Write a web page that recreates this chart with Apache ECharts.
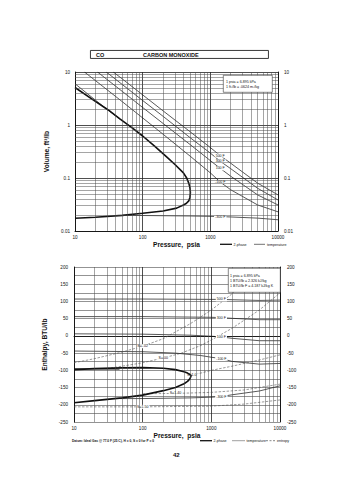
<!DOCTYPE html>
<html><head><meta charset="utf-8">
<script src="https://cdn.jsdelivr.net/npm/echarts@6/dist/echarts.min.js"></script>
<style>html,body{margin:0;padding:0;background:#fff}#c{width:355px;height:480px}</style>
</head><body><div id="c"></div>
<script>
// ---------- data (pressure psia, volume ft3/lb) ----------
const domeVolume = [[10,5.1],[20,2.8],[31,1.92],[46,1.3],[70,0.88],[100,0.62],[150,0.40],[226,0.25],[300,0.18],[400,0.125],[447,0.10],[480,0.08],[500,0.065],[507,0.053],[500,0.043],[480,0.037],[440,0.033],[400,0.031],[318,0.027],[200,0.0238],[100,0.0216],[50,0.0197],[20,0.0182],[10,0.0174]];
const volT500 = [[36.8,10],[50,7.4],[100,3.7],[200,1.85],[500,0.75],[1000,0.375],[1400,0.265],[2000,0.19],[5000,0.08],[10000,0.048]];
const volT300 = [[29,10],[50,5.8],[100,2.9],[200,1.46],[500,0.58],[1000,0.295],[1400,0.207],[2000,0.15],[5000,0.064],[10000,0.0385]];
const volT100 = [[21.5,10],[50,4.3],[100,2.14],[200,1.07],[500,0.43],[1000,0.213],[1400,0.152],[2000,0.108],[5000,0.048],[10000,0.031]];
const volTm100 = [[13.8,10],[20,6.9],[50,2.75],[100,1.36],[200,0.67],[500,0.26],[1000,0.125],[1400,0.084],[2000,0.06],[5000,0.031],[10000,0.023]];
const volTm300vap = [[10,6.0],[20,2.95],[30,1.96],[46,1.3]];
const volTm300liq = [[46,0.0197],[100,0.0196],[500,0.0192],[1000,0.0189],[1400,0.0187],[2000,0.0184],[5000,0.0175],[10000,0.0163]];
const volLabels = ['500 F','300 F','100 F','-100 F','-300 F'];

// ---------- data (pressure psia, enthalpy BTU/lb) ----------
const domeEnthalpy = [[10,-98],[20,-95],[50,-93],[100,-92],[200,-94],[300,-98],[400,-104],[450,-108],[490,-112],[507,-116],[490,-124],[450,-132],[400,-139],[300,-150],[200,-159],[100,-172],[50,-180],[20,-188],[10,-194]];
const hT500 = [[10,107],[100,107],[1000,106],[1400,106],[2000,105],[5000,103],[10000,104]];
const hT300 = [[10,56],[100,56],[1000,54],[1400,53],[2000,51],[5000,47],[10000,47]];
const hT100 = [[10,6],[100,5],[500,2],[1000,-1],[1400,-3],[2000,-7],[5000,-14],[10000,-14]];
const hTm100 = [[10,-44],[100,-46],[300,-50],[700,-57],[1000,-62],[1400,-66],[2000,-74],[5000,-82],[10000,-80]];
const hTm300vap = [[10,-95],[20,-96],[46,-97]];
const hTm300liq = [[46,-182],[100,-182],[500,-180],[1000,-178],[1400,-176],[2000,-171],[5000,-160],[10000,-145]];
const hLabels = ['500 F','300 F','100 F','-100 F','-300 F'];
const hS1 = [[10,-78],[20,-66],[50,-47],[100,-30],[200,-8],[500,36],[1000,75],[2000,122],[4000,180],[5000,200]];
const hS2 = [[30,-95],[50,-88],[100,-78],[200,-64],[355,-51],[700,-28],[1000,-12],[2000,22],[5000,75],[10000,125]];
const hS3 = [[520,-113],[700,-108],[1000,-100],[2000,-88],[5000,-70],[10000,-55]];
const hS4 = [[100,-168],[300,-167],[1000,-164],[3000,-157],[10000,-140]];
const hS5 = [[10,-206],[100,-206],[1000,-204],[3000,-198],[10000,-186]];
const sLabels = ['S=-.02','S=.00','S=1.0','S=1.40','S=1.50'];

const pressureTicks = [10,100,1000,10000];
const volumeTicks = [0.01,0.1,1,10];

// ---------- helpers ----------
function minorLog(lo, hi){const o=[];for(let d=lo;d<hi-1e-12;d*=10){for(let k=2;k<=9;k++)o.push(+(d*k).toPrecision(3));}return o;}
const FONT = 'Liberation Sans, Arial, sans-serif';
const gridColor = '#4a4a4a';
function labeled(data, at, text){
  return data.map(p => p[0]===at ? {value:p, label:{show:true, formatter:text}} : {value:p});
}
const isoLabel = {show:false, position:'inside', fontSize:3.6, color:'#111', backgroundColor:'#fff', padding:[0,1], fontFamily:FONT};
function line(xi, yi, data, opts){
  return Object.assign({type:'line', xAxisIndex:xi, yAxisIndex:yi, data:data, symbol:'circle', symbolSize:0.01, showSymbol:true,
    lineStyle:{color:'#111', width:0.7}, itemStyle:{color:'#111'}, label:isoLabel, silent:true, z:3}, opts||{});
}
function minorSeries(xi, yi, xs, ys){
  const d=[];xs.forEach(v=>d.push({xAxis:v}));(ys||[]).forEach(v=>d.push({yAxis:v}));
  return {type:'line', xAxisIndex:xi, yAxisIndex:yi, data:[], z:1,
    markLine:{silent:true, symbol:['none','none'], label:{show:false}, animation:false,
      lineStyle:{color:gridColor, width:0.5, type:'solid'}, data:d}};
}
const axisLbl = {fontSize:4.6, color:'#111', fontFamily:FONT};
const nameStyle = {fontSize:6.6, fontWeight:'bold', color:'#111', fontFamily:FONT};
const plainNum = v => String(+v.toPrecision(6));
const every50 = v => (Math.round(v) % 50 === 0 ? String(Math.round(v)) : '');
function logX(gi){return {gridIndex:gi, type:'log', logBase:10, min:10, max:10000, name:'Pressure,  psia', nameLocation:'middle', nameGap:10, nameTextStyle:nameStyle,
  axisLine:{lineStyle:{color:'#111', width:0.9}}, axisTick:{show:false}, axisLabel:Object.assign({margin:4, formatter:plainNum},axisLbl),
  splitLine:{show:true, lineStyle:{color:'#222', width:0.8}}};}

const chart = echarts.init(document.getElementById('c'), null, {renderer:'svg', width:355, height:480});
const volStyle = {lineStyle:{color:'#111', width:1.6}, z:4};
const entStyle = {lineStyle:{color:'#555', width:0.6, type:[2.5,1.5]}, itemStyle:{color:'#555'}};
const option = {
  animation:false,
  backgroundColor:'#fff',
  textStyle:{fontFamily:FONT},
  grid:[{left:75, top:72, width:203, height:159},{left:74, top:267, width:206, height:155}],
  xAxis:[logX(0), logX(1)],
  yAxis:[
    {gridIndex:0, type:'log', logBase:10, min:0.01, max:10, name:'Volume, ft³/lb', nameLocation:'middle', nameGap:15, nameTextStyle:nameStyle,
     axisLine:{lineStyle:{color:'#111', width:0.9}}, axisTick:{show:false}, axisLabel:Object.assign({margin:5, formatter:plainNum},axisLbl),
     splitLine:{show:true, lineStyle:{color:'#222', width:0.8}}},
    {gridIndex:0, type:'log', logBase:10, min:0.01, max:10, position:'right',
     axisLine:{show:true, lineStyle:{color:'#111', width:0.9}}, axisTick:{show:false}, axisLabel:Object.assign({margin:6, formatter:plainNum},axisLbl), splitLine:{show:false}},
    {gridIndex:1, type:'value', min:-250, max:200, interval:25, name:'Enthalpy, BTU/lb', nameLocation:'middle', nameGap:17, nameTextStyle:nameStyle,
     axisLine:{lineStyle:{color:'#111', width:0.9}}, axisTick:{show:false}, axisLabel:Object.assign({margin:6, formatter:every50},axisLbl),
     splitLine:{show:true, lineStyle:{color:gridColor, width:0.6}}},
    {gridIndex:1, type:'value', min:-250, max:200, interval:25, position:'right',
     axisLine:{show:true, lineStyle:{color:'#111', width:0.9}}, axisTick:{show:false}, axisLabel:Object.assign({margin:7, formatter:every50},axisLbl), splitLine:{show:false}}
  ],
  series:[
    minorSeries(0,0, minorLog(10,10000), minorLog(0.01,10)),
    minorSeries(1,2, minorLog(10,10000), []),
    Object.assign(line(0,0,domeVolume), volStyle),
    line(0,0, labeled(volT500,1400,volLabels[0])),
    line(0,0, labeled(volT300,1400,volLabels[1])),
    line(0,0, labeled(volT100,1400,volLabels[2])),
    line(0,0, labeled(volTm100,1400,volLabels[3])),
    line(0,0, volTm300vap),
    line(0,0, labeled(volTm300liq,1400,volLabels[4])),
    Object.assign(line(1,2,domeEnthalpy), volStyle),
    line(1,2, labeled(hT500,1400,hLabels[0])),
    line(1,2, labeled(hT300,1400,hLabels[1])),
    line(1,2, labeled(hT100,1400,hLabels[2])),
    line(1,2, labeled(hTm100,1400,hLabels[3])),
    line(1,2, hTm300vap),
    line(1,2, labeled(hTm300liq,1400,hLabels[4])),
    Object.assign(line(1,2, labeled(hS1,100,sLabels[0])), entStyle),
    Object.assign(line(1,2, labeled(hS2,200,sLabels[1])), entStyle),
    Object.assign(line(1,2, labeled(hS3,520,sLabels[2])), entStyle),
    Object.assign(line(1,2, labeled(hS4,300,sLabels[3])), entStyle),
    Object.assign(line(1,2, labeled(hS5,100,sLabels[4])), entStyle)
  ],
  graphic:[
    {type:'rect', left:90, top:50, shape:{width:178, height:8}, style:{fill:'#fff', stroke:'#222', lineWidth:0.9}},
    {type:'text', left:96, top:51.5, style:{text:'CO', font:'bold 5.5px '+FONT, fill:'#111'}},
    {type:'text', left:143, top:51.5, style:{text:'CARBON MONOXIDE', font:'bold 5.5px '+FONT, fill:'#111'}},
    {type:'rect', left:223, top:75, shape:{width:49, height:17}, style:{fill:'#fff', stroke:'#333', lineWidth:0.6}, z:10},
    {type:'text', left:226, top:79.5, z:11, style:{text:'1 psia = 6.895 kPa', font:'3.6px '+FONT, fill:'#111'}},
    {type:'text', left:226, top:85, z:11, style:{text:'1 ft³/lb = .0624 m³/kg', font:'3.6px '+FONT, fill:'#111'}},
    {type:'line', shape:{x1:220, y1:244.3, x2:232, y2:244.3}, style:{stroke:'#111', lineWidth:1.3}},
    {type:'text', left:233.5, top:242.6, style:{text:'2-phase', font:'3.6px '+FONT, fill:'#111'}},
    {type:'line', shape:{x1:254, y1:244.3, x2:265, y2:244.3}, style:{stroke:'#111', lineWidth:0.6}},
    {type:'text', left:267, top:242.6, style:{text:'temperature', font:'3.6px '+FONT, fill:'#111'}},
    {type:'rect', left:228, top:268, shape:{width:52, height:24}, style:{fill:'#fff', stroke:'#333', lineWidth:0.6}, z:10},
    {type:'text', left:230, top:273.8, z:11, style:{text:'1 psia = 6.895 kPa', font:'3.6px '+FONT, fill:'#111'}},
    {type:'text', left:230, top:278.8, z:11, style:{text:'1 BTU/lb = 2.326 kJ/kg', font:'3.6px '+FONT, fill:'#111'}},
    {type:'text', left:230, top:284, z:11, style:{text:'1 BTU/lb F = 4.187 kJ/kg K', font:'3.6px '+FONT, fill:'#111'}},
    {type:'line', shape:{x1:200, y1:440.7, x2:212, y2:440.7}, style:{stroke:'#111', lineWidth:1.3}},
    {type:'text', left:213.5, top:439, style:{text:'2-phase', font:'3.6px '+FONT, fill:'#111'}},
    {type:'line', shape:{x1:232, y1:440.7, x2:245, y2:440.7}, style:{stroke:'#777', lineWidth:0.7}},
    {type:'text', left:246.5, top:439, style:{text:'temperature', font:'3.6px '+FONT, fill:'#111'}},
    {type:'line', shape:{x1:266, y1:440.7, x2:275, y2:440.7}, style:{stroke:'#555', lineWidth:0.7, lineDash:[2,1.5]}},
    {type:'text', left:277, top:439, style:{text:'entropy', font:'3.6px '+FONT, fill:'#111'}},
    {type:'text', left:72, top:439, style:{text:'Datum: Ideal Gas @ 77.0 F (25 C), H = 0, S = 0 for P = 0', font:'bold 3.2px '+FONT, fill:'#111'}},
    {type:'text', left:173, top:451.5, style:{text:'42', font:'bold 6px '+FONT, fill:'#111'}}
  ]
};
chart.setOption(option);
</script></body></html>
